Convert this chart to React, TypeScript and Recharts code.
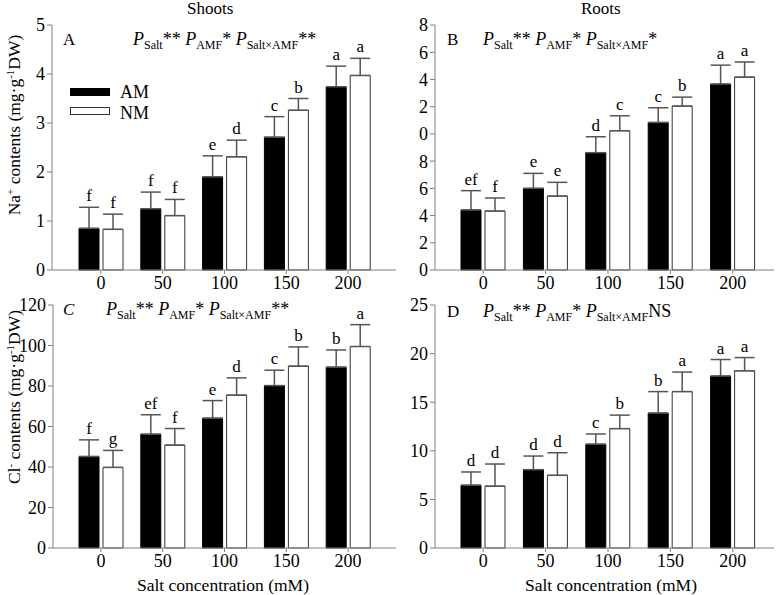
import React from "react";
import { BarChart, Bar, XAxis, YAxis, ErrorBar, LabelList } from "recharts";

const SALT = ["0", "50", "100", "150", "200"];

// Na+ shoots (A)
const NA_SHOOT_AM = [0.85, 1.25, 1.9, 2.71, 3.74];
const NA_SHOOT_AM_ERR = [0.43, 0.34, 0.43, 0.42, 0.42];
const NA_SHOOT_NM = [0.83, 1.11, 2.31, 3.26, 3.97];
const NA_SHOOT_NM_ERR = [0.31, 0.33, 0.34, 0.24, 0.35];
const NA_SHOOT_AM_SIG = ["f", "f", "e", "c", "a"];
const NA_SHOOT_NM_SIG = ["f", "f", "d", "b", "a"];

// Na+ roots (B)
const NA_ROOT_AM = [4.41, 6.0, 8.62, 10.84, 13.66];
const NA_ROOT_AM_ERR = [1.42, 1.1, 1.17, 1.08, 1.39];
const NA_ROOT_NM = [4.33, 5.43, 10.23, 12.04, 14.17];
const NA_ROOT_NM_ERR = [0.96, 1.01, 1.1, 0.66, 1.11];
const NA_ROOT_AM_SIG = ["ef", "e", "d", "c", "a"];
const NA_ROOT_NM_SIG = ["f", "e", "c", "b", "a"];

// Cl- shoots (C)
const CL_SHOOT_AM = [45.2, 56.2, 64.1, 80.2, 89.3];
const CL_SHOOT_AM_ERR = [8.2, 9.6, 8.7, 7.6, 8.5];
const CL_SHOOT_NM = [39.8, 50.8, 75.5, 89.8, 99.5];
const CL_SHOOT_NM_ERR = [8.4, 8.2, 8.5, 9.5, 10.8];
const CL_SHOOT_AM_SIG = ["f", "ef", "e", "c", "b"];
const CL_SHOOT_NM_SIG = ["g", "f", "d", "b", "a"];

// Cl- roots (D)
const CL_ROOT_AM = [6.46, 8.06, 10.68, 13.88, 17.69];
const CL_ROOT_AM_ERR = [1.36, 1.4, 1.05, 2.21, 1.7];
const CL_ROOT_NM = [6.36, 7.48, 12.28, 16.09, 18.23];
const CL_ROOT_NM_ERR = [2.28, 2.32, 1.39, 2.01, 1.36];
const CL_ROOT_AM_SIG = ["d", "d", "c", "b", "a"];
const CL_ROOT_NM_SIG = ["d", "d", "b", "a", "a"];

const TICKS_A = [0, 1, 2, 3, 4, 5];
const TICKS_B = [0, 2, 4, 6, 8, 10, 12, 14, 16, 18];
const TICKS_C = [0, 20, 40, 60, 80, 100, 120];
const TICKS_D = [0, 5, 10, 15, 20, 25];

const SERIF = "Liberation Serif";
const AXIS = "#808080";

const letterLabel = (sig: string[], vals: number[], errs: number[]) => (p: any) => {
  const vb = p.viewBox || p;
  const i = p.index;
  if (i == null) return null;
  const perUnit = vb.height / vals[i];
  const top = vb.y - errs[i] * perUnit;
  return (
    <text x={vb.x + vb.width / 2} y={top - 6} textAnchor="middle" fontSize={17} fontFamily={SERIF} fill="#000">
      {sig[i]}
    </text>
  );
};

function Panel(props: any) {
  const { left, top, width, height, am, amErr, nm, nmErr, amSig, nmSig, domain, ticks, fmt, yWidth, mRight, mTop, mBottom, padL, padR } = props;
  const data = SALT.map((s, i) => ({ salt: s, am: am[i], amErr: amErr[i], nm: nm[i], nmErr: nmErr[i] }));
  return (
    <div style={{ position: "absolute", left, top }}>
      <BarChart
        width={width}
        height={height}
        data={data}
        margin={{ top: mTop, right: mRight, left: 0, bottom: mBottom }}
        barSize={20}
        barGap={4}
        style={{ fontFamily: SERIF }}
      >
        <XAxis
          dataKey="salt"
          height={20}
          interval={0}
          padding={{ left: padL, right: padR }}
          stroke={AXIS}
          tickSize={4}
          tick={{ fill: "#000", fontSize: 18, fontFamily: SERIF }}
        />
        <XAxis xAxisId="top" dataKey="salt" orientation="top" height={0} tick={false} tickLine={false} stroke={AXIS} />
        <YAxis
          width={yWidth}
          domain={domain}
          ticks={ticks}
          tickFormatter={fmt}
          interval={0}
          stroke={AXIS}
          tickSize={5}
          tick={{ fill: "#000", fontSize: 18, fontFamily: SERIF }}
        />
        <YAxis yAxisId="right" orientation="right" width={0} tick={false} tickLine={false} stroke={AXIS} />
        <Bar dataKey="am" fill="#000" stroke="#000" isAnimationActive={false}>
          <ErrorBar dataKey={(d: any) => [0, d.amErr]} width={10} stroke="#555" strokeWidth={1.5} direction="y" />
          <LabelList content={letterLabel(amSig, am, amErr)} />
        </Bar>
        <Bar dataKey="nm" fill="#fff" stroke="#333" isAnimationActive={false}>
          <ErrorBar dataKey={(d: any) => [0, d.nmErr]} width={10} stroke="#555" strokeWidth={1.5} direction="y" />
          <LabelList content={letterLabel(nmSig, nm, nmErr)} />
        </Bar>
      </BarChart>
    </div>
  );
}

function PText({ left, top, inter }: { left: number; top: number; inter: string }) {
  const sub = { fontSize: 12, verticalAlign: "-4px" } as React.CSSProperties;
  return (
    <div style={{ position: "absolute", left, top, fontSize: 18, fontFamily: SERIF, whiteSpace: "nowrap", lineHeight: "20px" }}>
      <i>P</i><span style={sub}>Salt</span>** <i>P</i><span style={sub}>AMF</span>* <i>P</i><span style={sub}>Salt×AMF</span>{inter}
    </div>
  );
}

function Text({ left, top, children, style }: any) {
  return (
    <div style={{ position: "absolute", left, top, fontFamily: SERIF, fontSize: 17, whiteSpace: "nowrap", lineHeight: "18px", ...style }}>
      {children}
    </div>
  );
}

export default function App() {
  const last = (v: number) => String(v % 10);
  return (
    <div style={{ position: "absolute", left: 0, top: 0, width: 779, height: 595, background: "#fff", color: "#000", fontFamily: SERIF }}>
      <Panel left={0} top={0} width={400} height={300} am={NA_SHOOT_AM} amErr={NA_SHOOT_AM_ERR} nm={NA_SHOOT_NM} nmErr={NA_SHOOT_NM_ERR}
        amSig={NA_SHOOT_AM_SIG} nmSig={NA_SHOOT_NM_SIG} domain={[0, 5]} ticks={TICKS_A} yWidth={52} mRight={4} mTop={25} mBottom={10} padL={18} padR={17} />
      <Panel left={400} top={0} width={379} height={300} am={NA_ROOT_AM} amErr={NA_ROOT_AM_ERR} nm={NA_ROOT_NM} nmErr={NA_ROOT_NM_ERR}
        amSig={NA_ROOT_AM_SIG} nmSig={NA_ROOT_NM_SIG} domain={[0, 18]} ticks={TICKS_B} fmt={last} yWidth={35} mRight={5} mTop={25} mBottom={10} padL={17} padR={10} />
      <Panel left={0} top={290} width={400} height={305} am={CL_SHOOT_AM} amErr={CL_SHOOT_AM_ERR} nm={CL_SHOOT_NM} nmErr={CL_SHOOT_NM_ERR}
        amSig={CL_SHOOT_AM_SIG} nmSig={CL_SHOOT_NM_SIG} domain={[0, 120]} ticks={TICKS_C} yWidth={53} mRight={4} mTop={15} mBottom={27} padL={17} padR={17} />
      <Panel left={400} top={290} width={379} height={305} am={CL_ROOT_AM} amErr={CL_ROOT_AM_ERR} nm={CL_ROOT_NM} nmErr={CL_ROOT_NM_ERR}
        amSig={CL_ROOT_AM_SIG} nmSig={CL_ROOT_NM_SIG} domain={[0, 25]} ticks={TICKS_D} yWidth={35} mRight={5} mTop={15} mBottom={27} padL={17} padR={10} />

      <Text left={187} top={0} style={{ lineHeight: "17px" }}>Shoots</Text>
      <Text left={581} top={0} style={{ lineHeight: "17px" }}>Roots</Text>

      <Text left={63} top={31}>A</Text>
      <PText left={133} top={29} inter="**" />
      <Text left={447} top={31}>B</Text>
      <PText left={483} top={29} inter="*" />
      <Text left={63} top={301} style={{ fontStyle: "italic" }}>C</Text>
      <PText left={106} top={299} inter="**" />
      <Text left={447} top={303} >D</Text>
      <PText left={483} top={301} inter="NS" />

      <div style={{ position: "absolute", left: 70, top: 88, width: 40, height: 8, background: "#000" }} />
      <div style={{ position: "absolute", left: 70, top: 107, width: 38, height: 6, border: "1px solid #333", background: "#fff" }} />
      <Text left={120} top={83} style={{ fontSize: 18 }}>AM</Text>
      <Text left={120} top={104} style={{ fontSize: 18 }}>NM</Text>

      <Text left={12} top={125} style={{ fontSize: 17.5, transform: "translate(-50%, -50%) rotate(-90deg)" }}>
        Na<sup style={{ fontSize: 11 }}>+</sup> contents (mg·g<sup style={{ fontSize: 11 }}>-1</sup>DW)
      </Text>
      <Text left={12} top={397} style={{ fontSize: 17.5, transform: "translate(-50%, -50%) rotate(-90deg)" }}>
        Cl<sup style={{ fontSize: 11 }}>-</sup> contents (mg·g<sup style={{ fontSize: 11 }}>-1</sup>DW)
      </Text>

      <Text left={223} top={576} style={{ fontSize: 17.5, transform: "translateX(-50%)" }}>Salt concentration (mM)</Text>
      <Text left={611} top={576} style={{ fontSize: 17.5, transform: "translateX(-50%)" }}>Salt concentration (mM)</Text>
    </div>
  );
}
